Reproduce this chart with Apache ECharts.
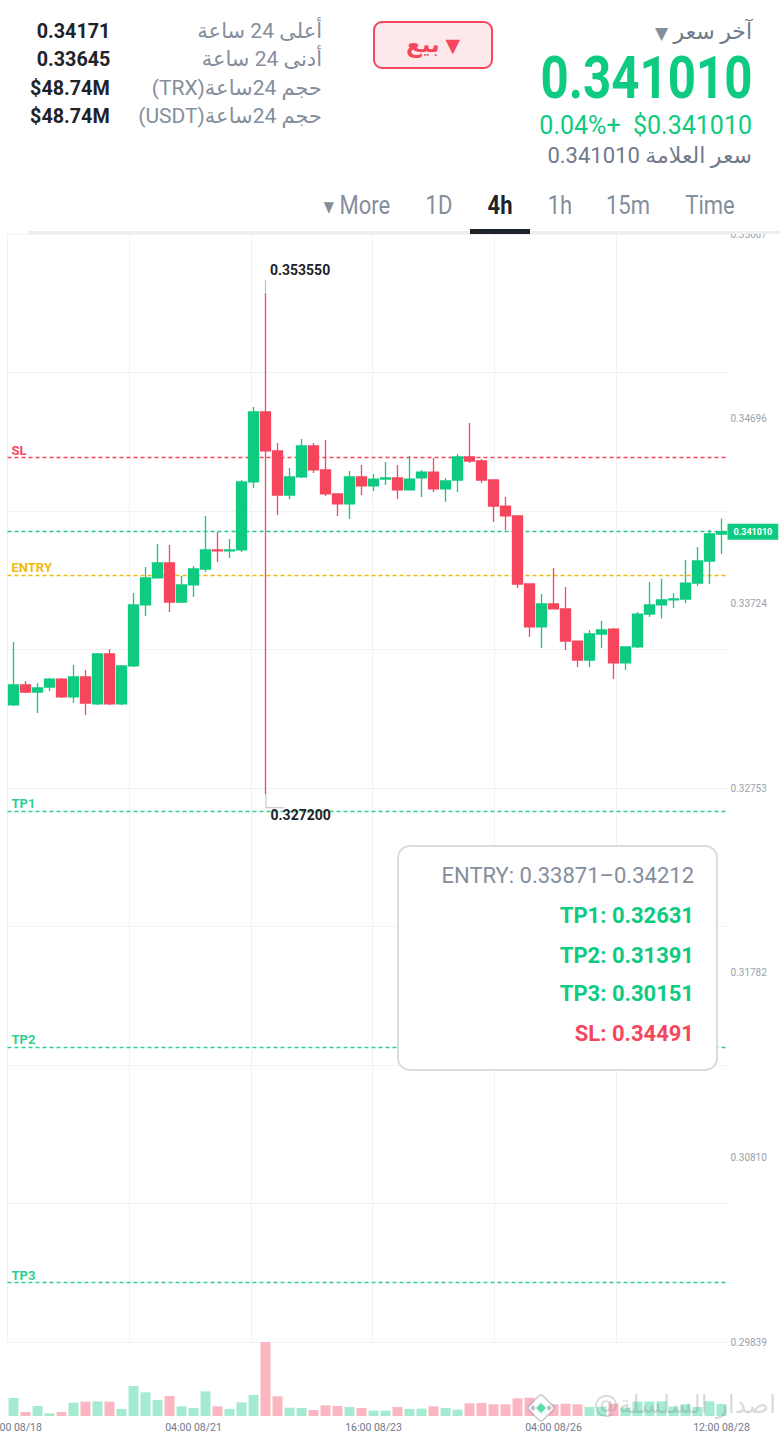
<!DOCTYPE html>
<html>
<head>
<meta charset="utf-8">
<script src="https://cdn.jsdelivr.net/npm/echarts@6/dist/echarts.min.js"></script>
<style>
html,body{margin:0;padding:0;background:#fff;width:780px;height:1434px;overflow:hidden;
  font-family:Roboto,"Noto Sans","DejaVu Sans",sans-serif;}
#page{position:relative;width:780px;height:1434px;overflow:hidden;}
.t{position:absolute;white-space:nowrap;}
.lbl{right:458px;color:#848e9c;font-size:21px;line-height:28px;direction:rtl;text-align:right;}
.val{right:670px;color:#1e2329;font-weight:700;font-size:21px;line-height:28px;transform:scaleX(.94);transform-origin:right center;}
.tab{top:190px;font-size:25px;line-height:32px;color:#848e9c;transform:translateX(-50%) scaleX(.88);}
#chart{position:absolute;left:0;top:234px;width:780px;height:1200px;}
</style>
</head>
<body>
<div id="page">
  <!-- left stats -->
  <div class="t lbl" style="top:17px">أعلى 24 ساعة</div>
  <div class="t lbl" style="top:45px">أدنى 24 ساعة</div>
  <div class="t lbl" style="top:74px">حجم 24ساعة(TRX)</div>
  <div class="t lbl" style="top:102px">حجم 24ساعة(USDT)</div>
  <div class="t val" style="top:17px">0.34171</div>
  <div class="t val" style="top:45px">0.33645</div>
  <div class="t val" style="top:74px">$48.74M</div>
  <div class="t val" style="top:102px">$48.74M</div>

  <!-- sell button -->
  <div class="t" style="left:373px;top:21px;width:120px;height:48px;box-sizing:border-box;border:2px solid #f6465d;border-radius:9px;background:#fde8eb;"></div>
  <div class="t" style="left:373px;top:21px;width:120px;height:48px;line-height:48px;text-align:center;direction:rtl;color:#f6465d;font-weight:700;font-size:23px;">
    <span style="font-size:19px">▼</span> بيع
  </div>

  <!-- right block -->
  <div class="t" style="right:28px;top:17px;font-size:22px;line-height:30px;color:#707a8a;direction:rtl;">آخر سعر <span style="font-size:17px;color:#848e9c">▼</span></div>
  <div class="t" style="right:28px;top:46px;font-size:60px;line-height:64px;font-weight:700;color:#0ecb81;transform:scaleX(.82);transform-origin:right center;">0.341010</div>
  <div class="t" style="right:28px;top:111px;font-size:25px;line-height:30px;color:#0ecb81;">0.04%+&nbsp;&nbsp;$0.341010</div>
  <div class="t" style="right:28px;top:141px;font-size:22px;line-height:30px;color:#707a8a;direction:rtl;">سعر العلامة 0.341010</div>

  <!-- tabs -->
  <div class="t tab" style="left:710px">Time</div>
  <div class="t tab" style="left:628px">15m</div>
  <div class="t tab" style="left:560px">1h</div>
  <div class="t tab" style="left:500px;color:#1e2329;font-weight:700">4h</div>
  <div class="t tab" style="left:439px">1D</div>
  <div class="t tab" style="left:357px"><span style="font-size:15px;vertical-align:2px">▼</span> More</div>
  <div class="t" style="left:28px;top:231px;width:752px;height:3px;background:#eceef1;"></div>
  <div class="t" style="left:470px;top:229px;width:60px;height:5px;background:#1e2329;"></div>

  <div id="chart"></div>
</div>

<script>
// ---- data ----
const categories = [
  "16:00 08/18","20:00 08/18","00:00 08/19","04:00 08/19","08:00 08/19","12:00 08/19","16:00 08/19","20:00 08/19",
  "00:00 08/20","04:00 08/20","08:00 08/20","12:00 08/20","16:00 08/20","20:00 08/20",
  "00:00 08/21","04:00 08/21","08:00 08/21","12:00 08/21","16:00 08/21","20:00 08/21",
  "00:00 08/22","04:00 08/22","08:00 08/22","12:00 08/22","16:00 08/22","20:00 08/22",
  "00:00 08/23","04:00 08/23","08:00 08/23","12:00 08/23","16:00 08/23","20:00 08/23",
  "00:00 08/24","04:00 08/24","08:00 08/24","12:00 08/24","16:00 08/24","20:00 08/24",
  "00:00 08/25","04:00 08/25","08:00 08/25","12:00 08/25","16:00 08/25","20:00 08/25",
  "00:00 08/26","04:00 08/26","08:00 08/26","12:00 08/26","16:00 08/26","20:00 08/26",
  "00:00 08/27","04:00 08/27","08:00 08/27","12:00 08/27","16:00 08/27","20:00 08/27",
  "00:00 08/28","04:00 08/28","08:00 08/28","12:00 08/28"
];
const openP = [
  0.33190,0.33295,0.33258,0.33284,0.33326,0.33232,0.33337,0.33195,0.33458,0.33195,
  0.33395,0.33716,0.33858,0.33937,0.33731,0.33821,0.33905,0.34005,0.34000,0.34005,
  0.34363,0.34731,0.34526,0.34294,0.34389,0.34552,0.34426,0.34300,0.34247,0.34389,
  0.34342,0.34378,0.34384,0.34321,0.34384,0.34415,0.34326,0.34373,0.34494,0.34473,
  0.34373,0.34236,0.34184,0.33826,0.33600,0.33721,0.33695,0.33526,0.33426,0.33563,
  0.33589,0.33411,0.33495,0.33668,0.33716,0.33742,0.33747,0.33831,0.33947,0.34089
];
const closeP = [
  0.33295,0.33258,0.33279,0.33326,0.33232,0.33337,0.33200,0.33458,0.33195,0.33395,
  0.33716,0.33858,0.33937,0.33731,0.33821,0.33905,0.34005,0.34000,0.34005,0.34363,
  0.34731,0.34526,0.34294,0.34389,0.34552,0.34426,0.34300,0.34247,0.34389,0.34342,
  0.34378,0.34384,0.34321,0.34378,0.34415,0.34326,0.34368,0.34494,0.34473,0.34373,
  0.34236,0.34184,0.33826,0.33600,0.33721,0.33695,0.33526,0.33426,0.33563,0.33584,
  0.33411,0.33495,0.33668,0.33716,0.33742,0.33747,0.33831,0.33947,0.34089,0.34101
];
const lowP = [
  0.33184,0.33253,0.33148,0.33263,0.33227,0.33200,0.33137,0.33190,0.33190,0.33190,
  0.33390,0.33658,0.33853,0.33679,0.33726,0.33758,0.33889,0.33942,0.33963,0.33994,
  0.34331,0.32720,0.34189,0.34273,0.34384,0.34410,0.34289,0.34184,0.34168,0.34294,
  0.34315,0.34347,0.34273,0.34318,0.34284,0.34310,0.34258,0.34310,0.34463,0.34357,
  0.34152,0.34110,0.33805,0.33547,0.33490,0.33693,0.33479,0.33390,0.33390,0.33490,
  0.33326,0.33374,0.33490,0.33653,0.33645,0.33700,0.33726,0.33816,0.33826,0.33984
];
const highP = [
  0.33521,0.33316,0.33305,0.33332,0.33332,0.33400,0.33374,0.33463,0.33484,0.33400,
  0.33779,0.33916,0.34037,0.34031,0.33868,0.33921,0.34184,0.34100,0.34063,0.34373,
  0.34757,0.35355,0.34568,0.34436,0.34589,0.34568,0.34584,0.34302,0.34420,0.34452,
  0.34405,0.34468,0.34452,0.34499,0.34426,0.34489,0.34384,0.34510,0.34673,0.34484,
  0.34375,0.34284,0.34186,0.33828,0.33774,0.33910,0.33810,0.33528,0.33584,0.33631,
  0.33595,0.33497,0.33679,0.33837,0.33853,0.33779,0.33952,0.34021,0.34110,0.34171
];
const volumes = [
  54,12,30,8,12,40,43,44,43,21,
  90,71,48,60,29,24,74,29,21,41,
  63,222,59,25,24,18,32,30,27,24,
  16,16,27,21,22,29,24,19,38,39,
  35,35,53,55,35,35,37,35,27,28,
  37,25,43,44,44,28,35,27,44,36
];
const priceTicks = [0.29839, 0.30810, 0.31782, 0.32753, 0.33724, 0.34696, 0.35667];
const timeLabelIdx = [0, 15, 30, 45, 59];
const lastPrice = 0.34101;
const slPrice = 0.34491;
const entryLow = 0.33871, entryHigh = 0.34212;
const tp1 = 0.32631, tp2 = 0.31391, tp3 = 0.30151;

// ---- styles ----
const GREEN = '#0ecb81', RED = '#f6465d', ORANGE = '#f0b90b', TPGREEN = '#2fd096';
const VGREEN = '#a4ebd1', VRED = '#fbb6c1';
const GRIDC = '#f1f2f4';

const candleData = categories.map((c, i) => [openP[i], closeP[i], lowP[i], highP[i]]);
let spikeIdx = 0;
highP.forEach((h, i) => { if (h > highP[spikeIdx]) spikeIdx = i; });
let lowIdx = 0;
lowP.forEach((l, i) => { if (l < lowP[lowIdx]) lowIdx = i; });

const chart = echarts.init(document.getElementById('chart'), null, {renderer: 'svg'});

// one helper series per horizontal level (dashed line + label)
function levelSeries(value, name, color, labelOpt) {
  return {
    type: 'line', name: name, xAxisIndex: 0, yAxisIndex: 0, data: [], color: color,
    silent: true, animation: false, z: 3,
    markLine: {
      silent: true, animation: false, precision: 6, symbol: ['none', 'none'],
      lineStyle: {color: color, type: [4, 3], width: 1.3, opacity: 1},
      emphasis: {disabled: true},
      label: labelOpt || {show: true, formatter: name, position: 'insideStartTop', color: color,
                          fontWeight: 'bold', fontSize: 13, distance: [4, 1], fontFamily: 'Roboto'},
      data: [{yAxis: value, lineStyle: {color: color, type: [4, 3], width: 1.3}}]
    }
  };
}

const option = {
  animation: false,
  grid: [
    {left: 7.5, right: 52.5, top: 0, height: 1108, outerBoundsMode: 'none'},
    {left: 7.5, right: 52.5, top: 1108, height: 74, outerBoundsMode: 'none'}
  ],
  xAxis: [
    {type: 'category', gridIndex: 0, data: categories, boundaryGap: true,
     axisLine: {show: false}, axisTick: {show: false}, axisLabel: {show: false}, splitLine: {show: false}},
    {type: 'value', gridIndex: 0, position: 'top', min: 0, max: 5.916, interval: 1,
     axisLine: {show: false}, axisTick: {show: false}, axisLabel: {show: false},
     splitLine: {show: true, showMaxLine: false, lineStyle: {color: GRIDC, width: 1}}},
    {type: 'category', gridIndex: 1, data: categories, boundaryGap: true,
     axisLine: {show: false}, axisTick: {show: false}, splitLine: {show: false},
     axisLabel: {interval: (i) => timeLabelIdx.includes(i), color: '#707a8a', fontSize: 10.5,
                 margin: 6, fontFamily: 'Roboto'}}
  ],
  yAxis: [
    {type: 'value', gridIndex: 0, position: 'right', min: priceTicks[0], max: priceTicks[priceTicks.length - 1],
     axisLine: {show: false}, axisTick: {show: false}, splitLine: {show: false},
     axisLabel: {customValues: priceTicks, formatter: (v) => v.toFixed(5), color: '#9aa1ab',
                 fontSize: 10, margin: 3, fontFamily: 'Roboto'}},
    {type: 'value', gridIndex: 0, position: 'left', min: 0, max: 8, interval: 1,
     axisLine: {show: false}, axisTick: {show: false}, axisLabel: {show: false},
     splitLine: {show: true, lineStyle: {color: GRIDC, width: 1}}},
    {type: 'value', gridIndex: 1, min: 0, max: 'dataMax', show: false}
  ],
  series: [
    {
      type: 'candlestick', xAxisIndex: 0, yAxisIndex: 0, data: candleData, barWidth: 10, z: 5,
      itemStyle: {color: GREEN, color0: RED, borderColor: GREEN, borderColor0: RED, borderWidth: 1.3},
      markPoint: {
        silent: true, animation: false,
        data: [
          {coord: [categories[spikeIdx], highP[spikeIdx]], symbol: 'rect', symbolSize: [1.2, 12],
           symbolOffset: [0, -7], itemStyle: {color: '#b9bfc7'},
           label: {show: true, formatter: highP[spikeIdx].toFixed(6), position: [5, -10], align: 'left',
                   verticalAlign: 'middle', color: '#1e2329', fontWeight: 'bold', fontSize: 14, fontFamily: 'Roboto'}},
          {coord: [categories[lowIdx], lowP[lowIdx]], symbol: 'path://M0,0L1,0L1,13L19,13L19,14L0,14Z',
           symbolSize: [19, 14], symbolOffset: [9.5, 7], symbolKeepAspect: false, itemStyle: {color: '#b9bfc7'},
           label: {show: true, formatter: lowP[lowIdx].toFixed(6), position: [5, 21], align: 'left',
                   verticalAlign: 'middle', color: '#1e2329', fontWeight: 'bold', fontSize: 14, fontFamily: 'Roboto'}}
        ]
      }
    },
    levelSeries(slPrice, 'SL', RED),
    levelSeries(lastPrice, 'LAST', '#20c98a',
      {show: true, position: 'end', formatter: lastPrice.toFixed(6), distance: 0,
       backgroundColor: GREEN, color: '#fff', fontSize: 9, fontWeight: 'bold',
       padding: [4, 6, 3, 6], fontFamily: 'Roboto'}),
    levelSeries(entryLow, 'ENTRY', ORANGE),
    levelSeries(tp1, 'TP1', TPGREEN),
    levelSeries(tp2, 'TP2', TPGREEN),
    levelSeries(tp3, 'TP3', TPGREEN),
    {
      type: 'bar', xAxisIndex: 2, yAxisIndex: 2, data: volumes, barWidth: 10,
      itemStyle: {color: (p) => (closeP[p.dataIndex] >= openP[p.dataIndex] ? VGREEN : VRED)}
    }
  ],
  graphic: [
    {type: 'rect', left: 397, top: 611, z: 100, shape: {width: 319, height: 224, r: 12},
     style: {fill: '#ffffff', stroke: '#d9dce1', lineWidth: 2}},
    {type: 'text', x: 694, y: 641, z: 101,
     style: {text: 'ENTRY: ' + entryLow.toFixed(5) + '–' + entryHigh.toFixed(5), fill: '#848e9c',
             font: '22px Roboto', align: 'right', verticalAlign: 'middle'}},
    {type: 'text', x: 694, y: 681, z: 101,
     style: {text: 'TP1: ' + tp1.toFixed(5), fill: GREEN, font: 'bold 22px Roboto', align: 'right', verticalAlign: 'middle'}},
    {type: 'text', x: 694, y: 721, z: 101,
     style: {text: 'TP2: ' + tp2.toFixed(5), fill: GREEN, font: 'bold 22px Roboto', align: 'right', verticalAlign: 'middle'}},
    {type: 'text', x: 694, y: 759, z: 101,
     style: {text: 'TP3: ' + tp3.toFixed(5), fill: GREEN, font: 'bold 22px Roboto', align: 'right', verticalAlign: 'middle'}},
    {type: 'text', x: 694, y: 799, z: 101,
     style: {text: 'SL: ' + slPrice.toFixed(5), fill: RED, font: 'bold 22px Roboto', align: 'right', verticalAlign: 'middle'}},
    // watermark (logo + handle)
    {type: 'rect', x: 541, y: 1174, rotation: Math.PI / 4, z: 90,
     shape: {x: -10, y: -10, width: 20, height: 20, r: 3},
     style: {fill: 'rgba(255,255,255,0.85)', stroke: 'rgba(150,155,165,0.55)', lineWidth: 1.5}},
    {type: 'rect', x: 541, y: 1174, rotation: Math.PI / 4, z: 91,
     shape: {x: -3.5, y: -3.5, width: 7, height: 7},
     style: {fill: 'rgba(14,203,129,0.65)'}},
    {type: 'circle', x: 533, y: 1174, z: 91, shape: {r: 2.2}, style: {fill: 'rgba(150,155,165,0.6)'}},
    {type: 'circle', x: 549, y: 1174, z: 91, shape: {r: 2.2}, style: {fill: 'rgba(150,155,165,0.6)'}},
    {type: 'text', x: 776, y: 1170, z: 90,
     style: {text: '@اصدار السلسلة', fill: 'rgba(120,125,135,0.3)', font: '25px "DejaVu Sans"',
             align: 'right', verticalAlign: 'middle'}}
  ]
};
chart.setOption(option);
</script>
</body>
</html>
